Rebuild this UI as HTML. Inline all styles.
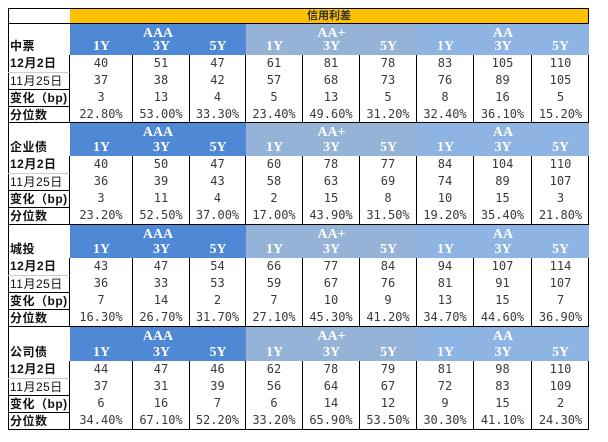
<!DOCTYPE html>
<html><head><meta charset="utf-8">
<style>
body{margin:0;background:#fff;width:608px;height:442px;overflow:hidden;position:relative;font-family:"Liberation Sans","Noto Sans CJK SC",sans-serif}
div{position:absolute;box-sizing:border-box}
.num{font-family:"DejaVu Sans Mono","Liberation Mono",monospace;font-size:12px;color:#3a3a3a;text-align:center;line-height:17px}
.hd{font-family:"Liberation Serif","Noto Serif CJK SC",serif;font-size:14px;font-weight:bold;color:#fff;text-align:center;line-height:15px}
.lab{font-size:12px;font-weight:bold;color:#111;line-height:17px;padding-left:2px;letter-spacing:0.5px;font-family:"Liberation Sans","Noto Sans CJK SC",sans-serif}
</style></head><body>
<div id="tbl" style="left:8px;top:8px;width:581px;height:422px;border:1.5px solid #000"></div>
<div style="left:70px;top:8px;width:519px;height:15px;background:#FFC000;border-top:1.5px solid #000;border-right:1.5px solid #000;font-size:11px;font-weight:bold;color:#333;text-align:center;line-height:14px;font-family:'Liberation Sans','Noto Sans CJK SC',sans-serif">信用利差</div>
<script>
const blocks=["中票","企业债","城投","公司债"];
const ratings=["AAA","AA+","AA"];
const tenors=["1Y","3Y","5Y"];
const rowLabels=["12月2日","11月25日","变化（bp)","分位数"];
const dec2=[[40,51,47,61,81,78,83,105,110],[40,50,47,60,78,77,84,104,110],[43,47,54,66,77,84,94,107,114],[44,47,46,62,78,79,81,98,110]];
const nov25=[[37,38,42,57,68,73,76,89,105],[36,39,43,58,63,69,74,89,107],[36,33,53,59,67,76,81,91,107],[37,31,39,56,64,67,72,83,109]];
const change=[[3,13,4,5,13,5,8,16,5],[3,11,4,2,15,8,10,15,3],[7,14,2,7,10,9,13,15,7],[6,16,7,6,14,12,9,15,2]];
const pct=[["22.80%","53.00%","33.30%","23.40%","49.60%","31.20%","32.40%","36.10%","15.20%"],["23.20%","52.50%","37.00%","17.00%","43.90%","31.50%","19.20%","35.40%","21.80%"],["16.30%","26.70%","31.70%","27.10%","45.30%","41.20%","34.70%","44.60%","36.90%"],["34.40%","67.10%","52.20%","33.20%","65.90%","53.50%","30.30%","41.10%","24.30%"]];
const colX=[70,133,190,246,303,360,417,474,532,589];
const blockTop=[23,122,224,326];
const hdrH=[32,34,34,35];
const colors=["#4F88D4","#95B3D7","#8DB4E2"];
function mk(cls,l,t,w,h,txt){const d=document.createElement('div');if(cls)d.className=cls;d.style.left=l+'px';d.style.top=t+'px';d.style.width=w+'px';d.style.height=h+'px';if(txt!==undefined)d.textContent=txt;document.body.appendChild(d);return d;}
blocks.forEach((b,bi)=>{
  const top=blockTop[bi],hh=hdrH[bi];
  const sep=mk('',8,top,581,0);sep.style.borderTop='1.5px solid #000';
  
  
  const bl=mk('lab',8,top+hh-17,62,17,b);
  
  
  ratings.forEach((r,ri)=>{
    const x=colX[ri*3],w=colX[ri*3+3]-x;
    const h=mk('hd',x,top+1,w,hh-1);h.style.background=colors[ri];
    
    
    const rt=mk('hd',x,top+3,w,15,r);
    
    
    tenors.forEach((t,ti)=>{
      const c=ri*3+ti;
      const tt=mk('hd',colX[c],top+hh-16,colX[c+1]-colX[c],15,t);
      
      
    });
  });
  const rows=[dec2[bi],nov25[bi],change[bi],pct[bi]];
  rows.forEach((vals,ri)=>{
    const y=top+hh+ri*17;
    const l=mk('lab',8,y,62,17,rowLabels[ri]);
    if(ri===1){l.style.fontWeight='normal';}
    if(ri>0){l.style.borderTop=(ri>=2?'1.5px solid #000':'1px solid #ccc');}
    l.style.borderRight='1.5px solid #000';
    
    
    vals.forEach((v,ci)=>{
      const c=mk('num',colX[ci],y,colX[ci+1]-colX[ci],17,String(v));
      if(ci<8)c.style.borderRight='1.5px solid #000';
      
      
    });
  });
});
</script>
</body></html>
